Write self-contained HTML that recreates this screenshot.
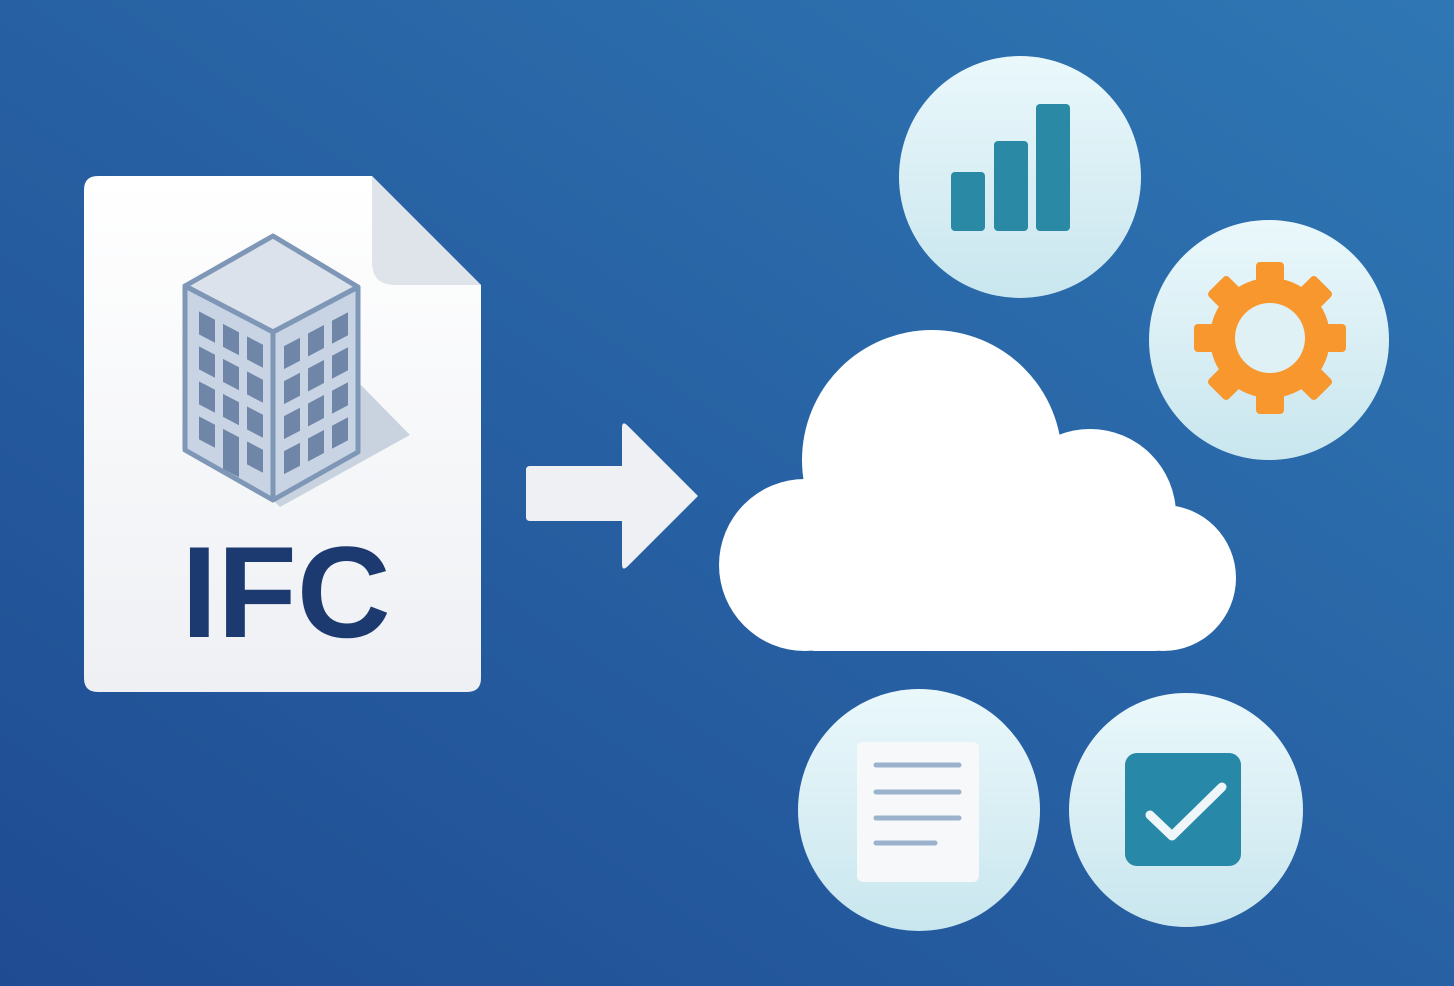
<!DOCTYPE html>
<html><head><style>html,body{margin:0;padding:0;width:1454px;height:986px;overflow:hidden}</style></head>
<body>
<svg width="1454" height="986" viewBox="0 0 1454 986" xmlns="http://www.w3.org/2000/svg">
<defs>
<linearGradient id="bg" x1="0" y1="1" x2="1" y2="0">
<stop offset="0" stop-color="#1f4b92"/><stop offset="1" stop-color="#2f77b4"/></linearGradient>
<linearGradient id="cg" x1="0" y1="0" x2="0" y2="1">
<stop offset="0" stop-color="#eaf8fb"/><stop offset="1" stop-color="#c9e6ee"/></linearGradient>
<linearGradient id="dg" x1="0" y1="0" x2="0" y2="1">
<stop offset="0" stop-color="#ffffff"/><stop offset="1" stop-color="#eef0f4"/></linearGradient>
</defs>
<rect width="1454" height="986" fill="url(#bg)"/>
<path d="M98,176 L372,176 L481,285 L481,678 Q481,692 467,692 L98,692 Q84,692 84,678 L84,190 Q84,176 98,176 Z" fill="url(#dg)"/>
<path d="M372,176 L372,262 Q372,285 395,285 L481,285 Z" fill="#dfe3ea"/>
<polygon points="358,382 410,435 280,507 273,500 358,452" fill="#c9d3df"/>
<polygon points="273,236 358,287 273,332 185,286" fill="#dbe2ec" stroke="#7f97b6" stroke-width="5" stroke-linejoin="round"/>
<polygon points="185,286 273,332 273,500 185,450" fill="#c8d4e3" stroke="#7f97b6" stroke-width="5" stroke-linejoin="round"/>
<polygon points="273,332 358,287 358,452 273,500" fill="#c8d4e3" stroke="#7f97b6" stroke-width="5" stroke-linejoin="round"/>
<g fill="#6f86a8" transform="matrix(1,0.523,0,1,185,286)">
<rect x="14" y="18" width="16" height="23"/><rect x="38" y="18" width="16" height="23"/><rect x="62" y="18" width="16" height="23"/>
<rect x="14" y="53" width="16" height="23"/><rect x="38" y="53" width="16" height="23"/><rect x="62" y="53" width="16" height="23"/>
<rect x="14" y="88" width="16" height="23"/><rect x="38" y="88" width="16" height="23"/><rect x="62" y="88" width="16" height="23"/>
<rect x="14" y="123" width="16" height="23"/><rect x="38" y="123" width="16" height="40"/><rect x="62" y="123" width="16" height="23"/>
</g>
<g fill="#6f86a8" transform="matrix(1,-0.53,0,1,273,332)">
<rect x="11" y="20" width="16" height="23"/><rect x="35" y="20" width="16" height="23"/><rect x="59" y="20" width="16" height="23"/>
<rect x="11" y="55" width="16" height="23"/><rect x="35" y="55" width="16" height="23"/><rect x="59" y="55" width="16" height="23"/>
<rect x="11" y="90" width="16" height="23"/><rect x="35" y="90" width="16" height="23"/><rect x="59" y="90" width="16" height="23"/>
<rect x="11" y="125" width="16" height="23"/><rect x="35" y="125" width="16" height="23"/><rect x="59" y="125" width="16" height="23"/>
</g>
<text x="286" y="637" text-anchor="middle" font-family="Liberation Sans, sans-serif" font-weight="bold" font-size="130" fill="#1c3a70">IFC</text>
<path d="M530,466 L622,466 L622,428 Q622,420 628,426 L698,496 L628,566 Q622,572 622,564 L622,521 L530,521 Q526,521 526,517 L526,470 Q526,466 530,466 Z" fill="#eef0f3"/>
<g fill="#ffffff">
<circle cx="932" cy="460" r="130"/>
<circle cx="805" cy="565" r="86"/>
<circle cx="1090" cy="515" r="86"/>
<circle cx="1163" cy="578" r="73"/>
<rect x="805" y="470" width="360" height="181" rx="10"/>
</g>
<circle cx="1020" cy="177" r="121" fill="url(#cg)"/>
<circle cx="1269" cy="340" r="120" fill="url(#cg)"/>
<circle cx="919" cy="810" r="121" fill="url(#cg)"/>
<circle cx="1186" cy="810" r="117" fill="url(#cg)"/>
<g fill="#2a8aa6">
<rect x="951" y="172" width="34" height="59" rx="4"/>
<rect x="994" y="141" width="34" height="90" rx="4"/>
<rect x="1036" y="104" width="34" height="127" rx="4"/>
</g>
<g transform="translate(1270,338)" fill="#f7972e">
<circle r="60"/>
<g id="t"><rect x="-14" y="-76" width="28" height="26" rx="4"/></g>
<use href="#t" transform="rotate(45)"/><use href="#t" transform="rotate(90)"/><use href="#t" transform="rotate(135)"/>
<use href="#t" transform="rotate(180)"/><use href="#t" transform="rotate(225)"/><use href="#t" transform="rotate(270)"/><use href="#t" transform="rotate(315)"/>
<circle r="35" fill="#dff1f5"/>
</g>
<rect x="857" y="742" width="122" height="140" rx="6" fill="#f6f8fa"/>
<g stroke="#9bb2cc" stroke-width="5" stroke-linecap="round">
<line x1="876" y1="765" x2="959" y2="765"/><line x1="876" y1="792" x2="959" y2="792"/>
<line x1="876" y1="818" x2="959" y2="818"/><line x1="876" y1="843" x2="935" y2="843"/>
</g>
<rect x="1125" y="753" width="116" height="113" rx="12" fill="#2788a7"/>
<polyline points="1150,815 1172,836 1222,787" fill="none" stroke="#eef6f9" stroke-width="9" stroke-linecap="round" stroke-linejoin="round"/>
</svg>
</body></html>
